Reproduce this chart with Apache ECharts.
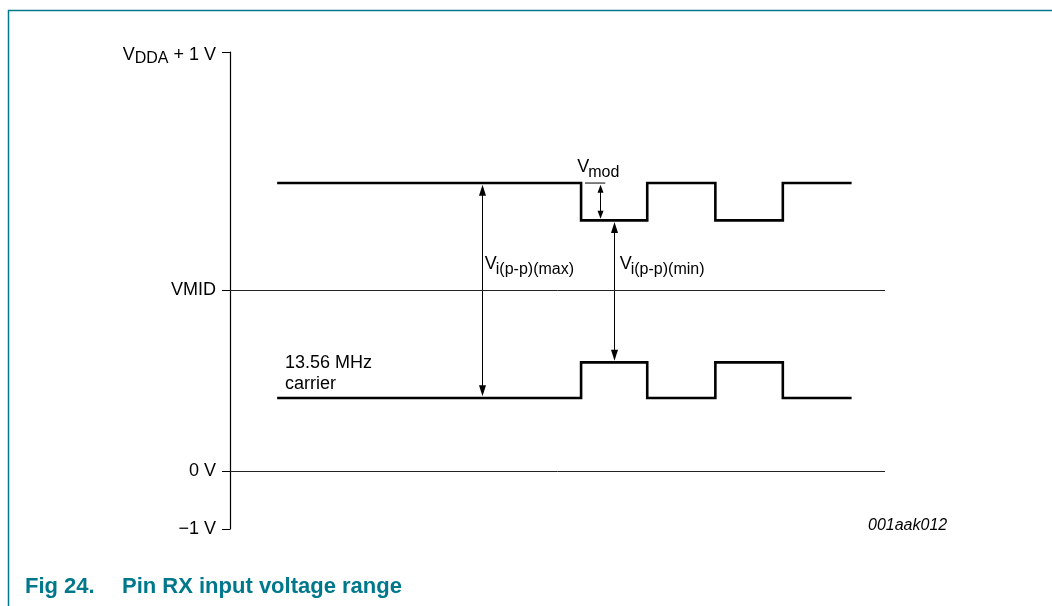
<!DOCTYPE html>
<html>
<head>
<meta charset="utf-8">
<script src="https://cdn.jsdelivr.net/npm/echarts@6/dist/echarts.min.js"></script>
<style>
html,body{margin:0;padding:0;background:#fff;}
#chart{width:1052px;height:606px;}
</style>
</head>
<body>
<div id="chart"></div>
<script>
// ---- data ----
const yTickValues = [-1, 0, 3.16, 7.3];
const yTickLabels = ['−1 V', '0 V', 'VMID', 'VDDA + 1 V'];
const refLevels = [3.16, 0];                      // VMID, 0 V
const carrierEdges = [7.2, 53.6, 63.7, 74.1, 84.4, 94.9];
const upperSignal = [5.02, 4.37, 5.02, 4.37, 5.02, 5.02];
const lowerSignal = [1.28, 1.90, 1.28, 1.90, 1.28, 1.28];
const vmodRefX = [54.2, 57.3];
const vmodRefY = [5.02, 5.02];
const arrowX = [38.4, 58.7, 56.5];
const arrowFrom = [5.02, 4.37, 5.02];
const arrowTo = [1.28, 1.90, 4.37];
const labelX = [38.9, 59.5, 53.0];
const labelY = [3.61, 3.61, 5.30];
const labelMain = ['V', 'V', 'V'];
const labelSub = ['i(p-p)(max)', 'i(p-p)(min)', 'mod'];
const noteX = [8.4];
const noteY = [2.07];
const noteText = ['13.56 MHz\ncarrier'];
const figCode = '001aak012';
const captionNum = 'Fig 24.';
const captionText = 'Pin RX input voltage range';

// ---- build ----
const FONT = '"Liberation Sans", Arial, Helvetica, sans-serif';
const TEAL = '#00788C';
const upperData = carrierEdges.map((x, i) => [x, upperSignal[i]]);
const lowerData = carrierEdges.map((x, i) => [x, lowerSignal[i]]);
const vmodData = vmodRefX.map((x, i) => [x, vmodRefY[i]]);
const arrowData = arrowX.map((x, i) => [x, arrowFrom[i], arrowTo[i]]);
const labelData = labelX.map((x, i) => [x, labelY[i]]);
const noteData = noteX.map((x, i) => [x, noteY[i]]);

function head(tipX, tipY, dir, len, w) {
  return {
    type: 'polygon',
    shape: { points: [[tipX, tipY], [tipX - w / 2, tipY + dir * len], [tipX + w / 2, tipY + dir * len]] },
    style: { fill: '#000' }
  };
}

const chart = echarts.init(document.getElementById('chart'), null, { renderer: 'canvas' });
chart.setOption({
  animation: false,
  backgroundColor: '#fff',
  title: {
    left: 25, top: 576, padding: 0,
    text: '{a|' + captionNum + '}{b|' + captionText + '}',
    textStyle: {
      rich: {
        a: { fontFamily: FONT, fontSize: 22, fontWeight: 'bold', color: TEAL, width: 97 },
        b: { fontFamily: FONT, fontSize: 22, fontWeight: 'bold', color: TEAL }
      }
    }
  },
  graphic: [
    { type: 'line', shape: { x1: 8, y1: 10.5, x2: 1052, y2: 10.5 }, style: { stroke: TEAL, lineWidth: 1.5 } },
    { type: 'line', shape: { x1: 8.5, y1: 10, x2: 8.5, y2: 606 }, style: { stroke: TEAL, lineWidth: 1.5 } },
    { type: 'text', left: 868, top: 518, style: { text: figCode, font: 'italic 16px ' + FONT, fill: '#000' } }
  ],
  grid: { left: 230, right: 167, top: 52, bottom: 77 },
  xAxis: { type: 'value', min: 0, max: 100, show: false },
  yAxis: {
    type: 'value', min: -1, max: 7.3,
    axisLine: { show: true, onZero: false, lineStyle: { color: '#000', width: 1.2 } },
    axisTick: { show: true, length: 8, customValues: yTickValues, lineStyle: { color: '#000', width: 1 } },
    axisLabel: {
      show: true, margin: 14, customValues: yTickValues,
      formatter: function (v) {
        const i = yTickValues.findIndex(t => Math.abs(t - v) < 1e-6);
        const s = i >= 0 ? yTickLabels[i] : '';
        if (s.indexOf('VDDA') === 0) return '{w|V}{s|DDA}{w|' + s.slice(4) + '}';
        return '{v|' + s + '}';
      },
      rich: {
        v: { fontFamily: FONT, fontSize: 18, color: '#000' },
        w: { fontFamily: FONT, fontSize: 18, color: '#000', padding: [7, 0, 0, 0] },
        s: { fontFamily: FONT, fontSize: 16, color: '#000', padding: [14, 0, 0, 0] }
      }
    },
    splitLine: { show: false }
  },
  series: [
    {
      type: 'line', data: [], silent: true,
      markLine: {
        silent: true, symbol: 'none', label: { show: false },
        lineStyle: { color: '#222', width: 1, type: 'solid' },
        data: refLevels.map(v => ({ yAxis: v }))
      }
    },
    {
      type: 'line', data: upperData, step: 'end', symbol: 'none', silent: true,
      lineStyle: { color: '#000', width: 2.6, cap: 'butt', join: 'miter' }
    },
    {
      type: 'line', data: lowerData, step: 'end', symbol: 'none', silent: true,
      lineStyle: { color: '#000', width: 2.6, cap: 'butt', join: 'miter' }
    },
    {
      type: 'line', data: vmodData, symbol: 'none', silent: true,
      lineStyle: { color: '#000', width: 1 }
    },
    {
      type: 'custom', silent: true, data: arrowData,
      encode: { x: 0, y: [1, 2] },
      renderItem: function (params, api) {
        const a = api.coord([api.value(0), api.value(1)]);
        const b = api.coord([api.value(0), api.value(2)]);
        const x = Math.round(a[0]) + 0.5;
        const top = Math.min(a[1], b[1]) + 1.6;
        const bot = Math.max(a[1], b[1]) - 1.6;
        const small = (bot - top) < 60;
        const len = small ? 8 : 11, w = small ? 6 : 7;
        return {
          type: 'group',
          children: [
            { type: 'line', shape: { x1: x, y1: top + len - 1, x2: x, y2: bot - len + 1 }, style: { stroke: '#000', lineWidth: 1 } },
            head(x, top, 1, len, w),
            head(x, bot, -1, len, w)
          ]
        };
      }
    },
    {
      type: 'custom', silent: true, data: labelData,
      renderItem: function (params, api) {
        const i = params.dataIndex;
        const p = api.coord([api.value(0), api.value(1)]);
        return {
          type: 'group',
          children: [
            { type: 'text', x: p[0], y: p[1], style: { text: labelMain[i], font: '18px ' + FONT, fill: '#000', align: 'left', verticalAlign: 'middle' } },
            { type: 'text', x: p[0] + 11, y: p[1] + 6, style: { text: labelSub[i], font: '16px ' + FONT, fill: '#000', align: 'left', verticalAlign: 'middle' } }
          ]
        };
      }
    },
    {
      type: 'custom', silent: true, data: noteData,
      renderItem: function (params, api) {
        const i = params.dataIndex;
        const p = api.coord([api.value(0), api.value(1)]);
        return {
          type: 'text', x: p[0], y: p[1],
          style: { text: noteText[i], font: '18px ' + FONT, fill: '#000', align: 'left', verticalAlign: 'top', lineHeight: 21 }
        };
      }
    }
  ]
});
</script>
</body>
</html>
